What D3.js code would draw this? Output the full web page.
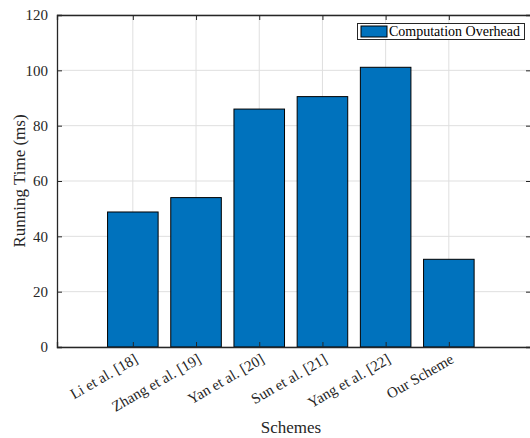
<!DOCTYPE html>
<html>
<head>
<meta charset="utf-8">
<script src="https://cdn.jsdelivr.net/npm/d3@7"></script>
<style>
html,body{margin:0;padding:0;background:#fff;}
svg{display:block;}
text{font-family:"Liberation Serif","Times New Roman",serif;}
</style>
</head>
<body>
<svg id="chart" width="530" height="438"></svg>
<script>
const categories = ["Li et al. [18]", "Zhang et al. [19]", "Yan et al. [20]", "Sun et al. [21]", "Yang et al. [22]", "Our Scheme"];
const values = [48.8, 54.0, 86.0, 90.5, 101.1, 31.7];
const yTicks = [0, 20, 40, 60, 80, 100, 120];
const seriesName = "Computation Overhead";
const xLabel = "Schemes";
const yLabel = "Running Time (ms)";

const svg = d3.select("#chart");
const L = 57, R = 531, T = 15, B = 347;
const axisColor = "#262626";
const x = d3.scaleLinear().domain([-1.2, 6.3]).range([L, R]);
const y = d3.scaleLinear().domain([0, 120]).range([B, T]);
const idx = categories.map((c, i) => i);
const bw = (x(1) - x(0)) * 0.8;

// grid
const g = svg.append("g");
g.selectAll("line.hg").data(yTicks).join("line")
  .attr("x1", L).attr("x2", R).attr("y1", d => y(d)).attr("y2", d => y(d))
  .attr("stroke", "#dfdfdf").attr("stroke-width", 1);
g.selectAll("line.vg").data(idx).join("line")
  .attr("x1", d => x(d)).attr("x2", d => x(d)).attr("y1", T).attr("y2", B)
  .attr("stroke", "#dfdfdf").attr("stroke-width", 1);

// bars
svg.append("g").selectAll("rect").data(values).join("rect")
  .attr("x", (d, i) => x(i) - bw / 2)
  .attr("width", bw)
  .attr("y", d => y(d))
  .attr("height", d => y(0) - y(d))
  .attr("fill", "#0072BD")
  .attr("stroke", "#000").attr("stroke-width", 1);

// axes via d3 axis generators
const tl = 5;
const yAxisL = d3.axisLeft(y).tickValues(yTicks).tickSize(-tl).tickPadding(9);
const gyl = svg.append("g").attr("transform", `translate(${L},0)`).call(yAxisL);
const yAxisR = d3.axisRight(y).tickValues(yTicks).tickSize(-tl).tickFormat("");
const gyr = svg.append("g").attr("transform", `translate(${R},0)`).call(yAxisR);
const xAxisB = d3.axisBottom(x).tickValues(idx).tickSize(-tl).tickFormat("");
const gxb = svg.append("g").attr("transform", `translate(0,${B})`).call(xAxisB);
const xAxisT = d3.axisTop(x).tickValues(idx).tickSize(-tl).tickFormat("");
const gxt = svg.append("g").attr("transform", `translate(0,${T})`).call(xAxisT);
[gyl, gyr, gxb, gxt].forEach(a => {
  a.select(".domain").attr("stroke", axisColor).attr("stroke-width", 1.3);
  a.selectAll(".tick line").attr("stroke", axisColor).attr("stroke-width", 1);
});
gyl.selectAll("text").attr("font-family", "Liberation Serif").attr("font-size", 15).attr("fill", axisColor);

// rotated x labels
svg.append("g").selectAll("text").data(categories).join("text")
  .attr("transform", (d, i) => `translate(${x(i) + 6},${B + 15}) rotate(-30)`)
  .attr("text-anchor", "end")
  .attr("font-size", 15).attr("fill", axisColor)
  .text(d => d);

// axis labels
svg.append("text").attr("x", (L + R) / 2 - 3).attr("y", 433)
  .attr("text-anchor", "middle").attr("font-size", 17).attr("fill", axisColor).text(xLabel);
svg.append("text").attr("transform", `translate(25,${(T + B) / 2}) rotate(-90)`)
  .attr("text-anchor", "middle").attr("font-size", 17).attr("fill", axisColor).text(yLabel);

// legend
const lg = svg.append("g");
lg.append("rect").attr("x", 357.5).attr("y", 23.5).attr("width", 167).attr("height", 16)
  .attr("fill", "#fff").attr("stroke", axisColor).attr("stroke-width", 1);
lg.append("rect").attr("x", 361).attr("y", 26).attr("width", 26).attr("height", 11)
  .attr("fill", "#0072BD").attr("stroke", "#000").attr("stroke-width", 1);
lg.append("text").attr("x", 389).attr("y", 36).attr("font-size", 14).attr("fill", "#000").text(seriesName);
</script>
</body>
</html>
